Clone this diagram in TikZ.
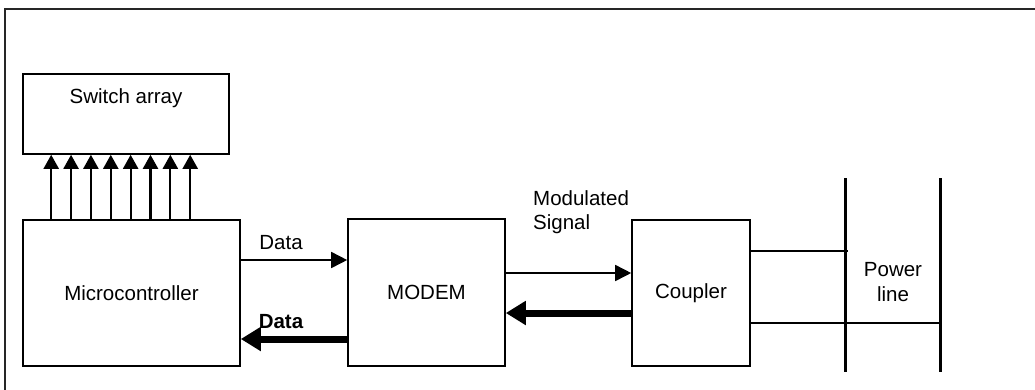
\documentclass[tikz,border=0pt]{standalone}
\usepackage{fontspec}
\setmainfont{Liberation Sans}
\usetikzlibrary{arrows.meta,calc}
\begin{document}
\begin{tikzpicture}[x=1pt,y=-1pt,
  box/.style={draw=black,line width=1.6pt,minimum width=#1,inner sep=0pt},
  lbl/.style={inner sep=0pt,font=\fontsize{20.5}{24.5}\selectfont},
  uparrow/.style={line width=2.2pt,-{Triangle[width=15pt,length=14pt]}},
  thinarrow/.style={line width=1.6pt,-{Triangle[width=16pt,length=16pt]}},
  thickarrow/.style={line width=7pt,-{Triangle[width=23pt,length=20pt]}},
  wire/.style={line width=1.5pt},
  pline/.style={line width=3pt}]
\useasboundingbox (0,0) rectangle (1035,389);
% frame
\coordinate (fr1) at (1040,9);
\coordinate (fr2) at (5,9);
\coordinate (fr3) at (5,395);
\draw[line width=1.8pt,draw=black!85] (fr1) -- (fr2) -- (fr3);
% boxes
\node[box=206pt,minimum height=80pt] (switch) at (126,114) {};
\node[lbl] (swtext) at (126,98) {Switch array};
\node[box=217pt,minimum height=146pt,lbl,draw,line width=1.6pt] (micro) at (131.5,293) {Microcontroller};
\node[box=157pt,minimum height=147pt,lbl,draw,line width=1.6pt] (modem) at (426.5,292.5) {MODEM};
\node[box=118pt,minimum height=146pt,lbl,draw,line width=1.6pt] (coupler) at (691,293) {Coupler};
% up arrows
\foreach \i in {0,...,7}{
  \draw[uparrow] ([xshift={29pt+19.86pt*\i}]micro.north west) -- ([xshift={29pt+19.86pt*\i}]switch.south west);
}
% data arrows
\draw[thinarrow] ([yshift=33pt]micro.east) -- ([yshift=32.5pt]modem.west);
\node[lbl] (data1) at (281,243) {Data};
\draw[thickarrow] ([yshift=-46.5pt]modem.west) -- ([yshift=-46pt]micro.east);
\node[lbl,font=\fontsize{20.5}{24.5}\selectfont\bfseries] (data2) at (281,322) {Data};
\draw[thinarrow] ([yshift=19.5pt]modem.east) -- ([yshift=20pt]coupler.west);
\draw[thickarrow] ([yshift=-20pt]coupler.west) -- ([yshift=-20.5pt]modem.east);
\node[lbl,anchor=west,align=left] (mod) at (533,212) {Modulated\\Signal};
% power line
\coordinate (pa1) at (845,178);
\coordinate (pa2) at (845,372);
\coordinate (pb1) at (940,178);
\coordinate (pb2) at (940,372);
\draw[pline] (pa1) -- (pa2);
\draw[pline] (pb1) -- (pb2);
\coordinate (c1) at (848,251);
\coordinate (c2) at (940,323);
\draw[wire] ([yshift=42pt]coupler.east) -- (c1);
\draw[wire] (coupler.east |- c2) -- (c2);
\node[lbl,align=center] (pl) at (893,282) {Power\\line};
\end{tikzpicture}
\end{document}
